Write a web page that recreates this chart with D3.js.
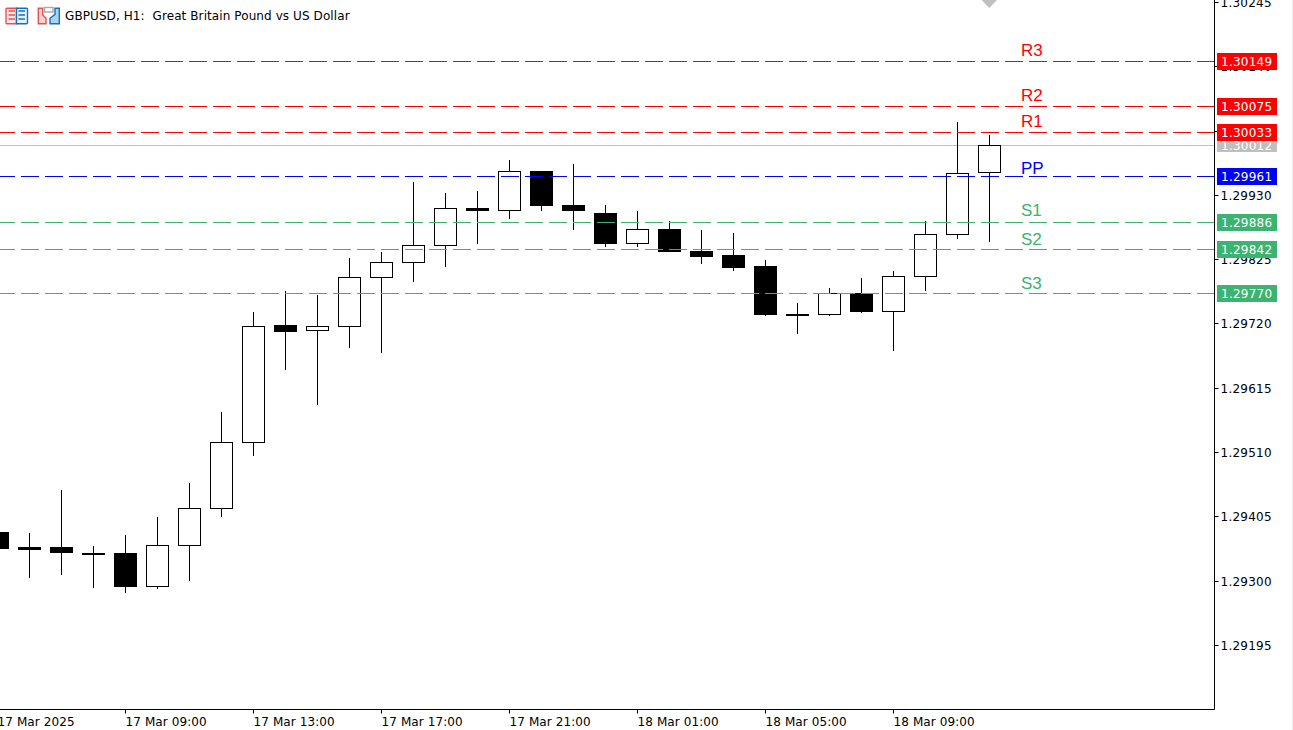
<!DOCTYPE html>
<html>
<head>
<meta charset="utf-8">
<script src="https://cdn.jsdelivr.net/npm/d3@7/dist/d3.min.js"></script>
<style>
html, body { margin: 0; padding: 0; background: #fff; overflow: hidden; }
svg { display: block; }
text { font-family: "DejaVu Sans", sans-serif; font-size: 12px; fill: #000; }
</style>
</head>
<body>
<div id="chart"></div>
<script>
var title = "GBPUSD, H1:  Great Britain Pound vs US Dollar";

// hours since 17 Mar 05:00, one bar per hour
var hours = d3.range(0, 32);
var opens  = [1.29380,1.29355,1.29354,1.29345,1.29345,1.29291,1.29358,1.29419,1.29527,1.29717,1.29709,1.29716,1.29796,1.29821,1.29848,1.29909,1.29906,1.29969,1.29914,1.29901,1.29852,1.29875,1.29839,1.29831,1.29813,1.29735,1.29736,1.29770,1.29741,1.29798,1.29866,1.29968];
var highs  = [1.29380,1.29378,1.29449,1.29357,1.29375,1.29405,1.29460,1.29576,1.29739,1.29774,1.29767,1.29828,1.29838,1.29952,1.29934,1.29937,1.29988,1.29970,1.29981,1.29914,1.29905,1.29888,1.29873,1.29869,1.29824,1.29754,1.29779,1.29795,1.29806,1.29888,1.30050,1.30029];
var lows   = [1.29353,1.29305,1.29309,1.29289,1.29281,1.29287,1.29300,1.29405,1.29504,1.29645,1.29588,1.29681,1.29673,1.29789,1.29813,1.29851,1.29892,1.29905,1.29874,1.29846,1.29846,1.29838,1.29818,1.29807,1.29733,1.29704,1.29733,1.29738,1.29675,1.29774,1.29859,1.29853];
var closes = [1.29353,1.29352,1.29346,1.29343,1.29291,1.29358,1.29419,1.29527,1.29716,1.29708,1.29716,1.29796,1.29821,1.29848,1.29909,1.29906,1.29969,1.29913,1.29905,1.29851,1.29875,1.29838,1.29830,1.29812,1.29735,1.29736,1.29769,1.29740,1.29798,1.29866,1.29966,1.30012];

var priceTicks = [1.30245,1.30140,1.30035,1.29930,1.29825,1.29720,1.29615,1.29510,1.29405,1.29300,1.29195];
var timeTicks = [0,4,8,12,16,20,24,28];
var timeLabels = ["17 Mar 2025","17 Mar 09:00","17 Mar 13:00","17 Mar 17:00","17 Mar 21:00","18 Mar 01:00","18 Mar 05:00","18 Mar 09:00"];

var levelNames  = ["R3","R2","R1","PP","S1","S2","S3"];
var levelValues = [1.30149,1.30075,1.30033,1.29961,1.29886,1.29842,1.29770];
var levelColors = ["#ff0000","#ff0000","#ff0000","#0000ff","#3cb371","#3cb371","#3cb371"];
var levelLabelY = [56,101,127,174,216,245,289];
var lastPrice = 1.30012;

var width = 1293, height = 730;
var plotRight = 1214.5, plotBottom = 709.5;

var svg = d3.select("#chart").append("svg")
  .attr("width", width)
  .attr("height", height);

var x = d3.scaleLinear().domain([0, 1]).range([-2.5, 29.5]);
var y = d3.scaleLinear().domain([1.30149, 1.29770]).range([61.3, 293.3]);
var snap = function(v) { return Math.floor(v) + 0.5; };

// right strip
svg.append("rect").attr("x", 1292).attr("y", 0).attr("width", 1).attr("height", height).attr("fill", "#ececec");

// current price line sits under the bars
svg.append("line")
  .attr("x1", 0).attr("x2", plotRight)
  .attr("y1", snap(y(lastPrice))).attr("y2", snap(y(lastPrice)))
  .attr("stroke", "#c0c0c0");

// candles
var candles = svg.append("g").selectAll("g").data(hours).enter().append("g");
candles.append("line")
  .attr("x1", function(i) { return x(i); })
  .attr("x2", function(i) { return x(i); })
  .attr("y1", function(i) { return Math.round(y(highs[i])); })
  .attr("y2", function(i) { return Math.round(y(lows[i])); })
  .attr("stroke", "#000");
candles.append("rect")
  .attr("x", function(i) { return x(i) - 11; })
  .attr("width", 22)
  .attr("y", function(i) { return snap(y(Math.max(opens[i], closes[i]))); })
  .attr("height", function(i) {
    return Math.max(1, Math.floor(y(Math.min(opens[i], closes[i]))) - Math.floor(y(Math.max(opens[i], closes[i]))));
  })
  .attr("fill", function(i) { return closes[i] >= opens[i] ? "#fff" : "#000"; })
  .attr("stroke", "#000");

// pivot levels
svg.append("g").selectAll("line").data(levelValues).enter().append("line")
  .attr("x1", -3).attr("x2", plotRight)
  .attr("y1", function(d) { return snap(y(d)); })
  .attr("y2", function(d) { return snap(y(d)); })
  .attr("stroke", function(d, i) { return levelColors[i]; })
  .attr("stroke-dasharray", "18,6");

svg.append("g").selectAll("text").data(levelNames).enter().append("text")
  .attr("x", 1021)
  .attr("y", function(d, i) { return levelLabelY[i]; })
  .style("font-family", "'Liberation Sans', sans-serif")
  .style("font-size", "17px")
  .style("fill", function(d, i) { return levelColors[i]; })
  .text(function(d) { return d; });

// axes
var priceAxis = d3.axisRight(y).tickValues(priceTicks).tickSize(4).tickPadding(2).offset(0).tickFormat(d3.format(".5f"));
var gy = svg.append("g").attr("transform", "translate(" + plotRight + ",0)").call(priceAxis);
gy.select(".domain").attr("d", "M0,0V" + plotBottom);
gy.selectAll(".tick").attr("transform", function(d) { return "translate(0," + snap(y(d)) + ")"; });
gy.selectAll("text").attr("y", 1).style("letter-spacing", "0.25px");

var timeAxis = d3.axisBottom(x).tickValues(timeTicks).tickSize(4).offset(0).tickFormat(function(d, i) { return timeLabels[i]; });
var gx = svg.append("g").attr("transform", "translate(0," + plotBottom + ")").call(timeAxis);
gx.select(".domain").attr("d", "M0,0H" + plotRight);
gx.selectAll("text").attr("text-anchor", "start").attr("x", 0).attr("y", 16).attr("dy", null).style("letter-spacing", "0.1px");
gx.attr("font-family", null).attr("font-size", null);
gy.attr("font-family", null).attr("font-size", null);

// price flags on the axis
var flagValues = [lastPrice].concat(levelValues);
var flagColors = ["#c0c0c0"].concat(levelColors);
var flags = svg.append("g").selectAll("g").data(flagValues).enter().append("g")
  .attr("transform", function(d) { return "translate(1217," + Math.floor(y(d)) + ")"; });
flags.append("rect")
  .attr("x", 0).attr("width", 60)
  .attr("y", function(d, i) { return i ? -8 : -6; })
  .attr("height", function(d, i) { return i ? 17 : 13; })
  .attr("fill", function(d, i) { return flagColors[i]; });
flags.append("text")
  .attr("x", 4).attr("y", 5)
  .style("fill", "#fff")
  .style("letter-spacing", "0.25px")
  .text(d3.format(".5f"));

// grey arrow at the top
svg.append("path")
  .attr("d", d3.line()([[981.5, 0], [997, 0], [989.3, 8]]) + "Z")
  .attr("fill", "#c0c0c0");

// title icons
var icons = svg.append("g").attr("stroke-width", 1.4);
icons.append("path").attr("d", "M16.5,8.3H7Q6,8.3 6,9.3V22.7Q6,23.7 7,23.7H16.5Z").attr("fill", "#fde8e8").attr("stroke", "#e85050");
icons.append("path").attr("d", "M16.5,8.3H26.5Q27.5,8.3 27.5,9.3V22.7Q27.5,23.7 26.5,23.7H16.5Z").attr("fill", "#e4f2fc").attr("stroke", "#1a70b8");
icons.append("path").attr("d", "M8.5,11H15M8.5,15H15M8.5,19H15").attr("stroke", "#e85050").attr("fill", "none");
icons.append("path").attr("d", "M18.5,11H25M18.5,15H25M18.5,19H25").attr("stroke", "#1a70b8").attr("fill", "none");
icons.append("path").attr("d", "M38.3,8.3H42.7V15L46,18.3V23.7H38.3Z").attr("fill", "#fcd4d4").attr("stroke", "#e85050");
icons.append("path").attr("d", "M55,8.3H59.3V23.7H50V18.3L55,14.3Z").attr("fill", "#a8d4f5").attr("stroke", "#1a70b8");
icons.append("rect").attr("x", 44.5).attr("y", 7.5).attr("width", 8.5).attr("height", 4.5).attr("fill", "#fff").attr("stroke", "#a8a8a8");

svg.append("text").attr("x", 65).attr("y", 20).attr("xml:space", "preserve")
  .style("white-space", "pre").style("letter-spacing", "0.09px").text(title);
</script>
</body>
</html>
